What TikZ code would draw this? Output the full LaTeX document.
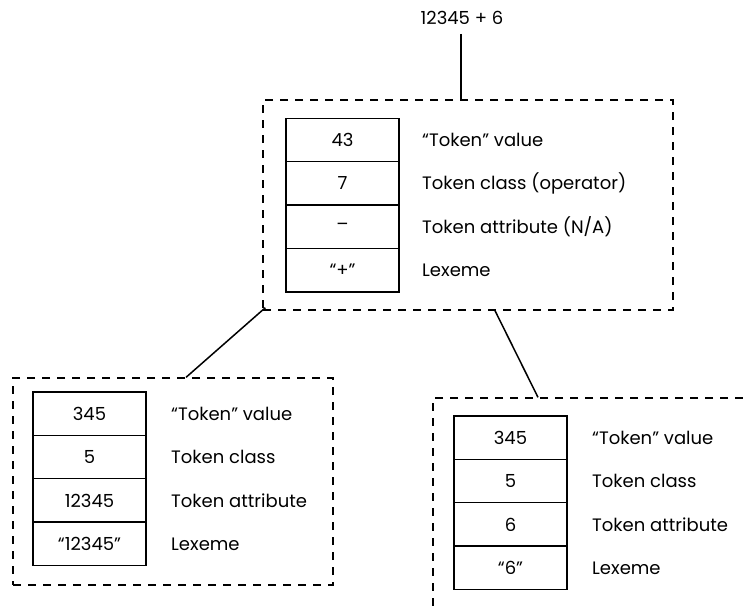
\documentclass[tikz,border=0pt]{standalone}
\usepackage{fontspec}
\setmainfont{Poppins}
\usetikzlibrary{positioning}
\tikzset{
  cell/.style={draw, line width=1.4pt, minimum width=113pt, minimum height=43.4pt, inner sep=0pt, outer sep=0pt, font=\fontsize{18}{21}\selectfont},
  lbl/.style={anchor=west, inner sep=0pt, font=\fontsize{18}{21}\selectfont},
  group/.style={draw, dashed, dash pattern=on 8pt off 7pt, line width=1.3pt, rectangle, inner sep=0pt},
  link/.style={line width=1.5pt}
}
\begin{document}
\begin{tikzpicture}[x=1pt,y=-1pt]
\useasboundingbox (0,0) rectangle (743,606);
\clip (0,0) rectangle (743,606);
\node[lbl, anchor=center] (expr) at (462,18) {12345 + 6};
% top group
\node[group, minimum width=410pt, minimum height=210pt] (topbox) at (468,205) {};
\node[cell] (t1) at (342.5,140) {43};
\node[cell, below=0pt of t1] (t2) {7};
\node[cell, below=0pt of t2] (t3) {–};
\node[cell, below=0pt of t3] (t4) {“+”};
\node[lbl, right=23pt of t1] (tl1) {“Token” value};
\node[lbl, right=23pt of t2] (tl2) {Token class (operator)};
\node[lbl, right=23pt of t3] (tl3) {Token attribute (N/A)};
\node[lbl, right=23pt of t4] (tl4) {Lexeme};
% left group
\node[group, minimum width=320pt, minimum height=207pt] (leftbox) at (173,481.5) {};
\node[cell] (l1) at (89.5,413.6) {345};
\node[cell, below=0pt of l1] (l2) {5};
\node[cell, below=0pt of l2] (l3) {12345};
\node[cell, below=0pt of l3] (l4) {“12345”};
\node[lbl, right=25pt of l1] (ll1) {“Token” value};
\node[lbl, right=25pt of l2] (ll2) {Token class};
\node[lbl, right=25pt of l3] (ll3) {Token attribute};
\node[lbl, right=25pt of l4] (ll4) {Lexeme};
% right group
\node[group, minimum width=330pt, minimum height=220pt] (rightbox) at (598,508) {};
\node[cell] (r1) at (510.5,437.6) {345};
\node[cell, below=0pt of r1] (r2) {5};
\node[cell, below=0pt of r2] (r3) {6};
\node[cell, below=0pt of r3] (r4) {“6”};
\node[lbl, right=25pt of r1] (rl1) {“Token” value};
\node[lbl, right=25pt of r2] (rl2) {Token class};
\node[lbl, right=25pt of r3] (rl3) {Token attribute};
\node[lbl, right=25pt of r4] (rl4) {Lexeme};
% connectors
\draw[link] ([yshift=-9pt]expr.south -| 461,0) -- (topbox.north -| 461,0);
\draw[link] (leftbox.north -| 186,0) -- ([xshift=3pt,yshift=3pt]topbox.south west);
\draw[link] (rightbox.north -| 538,0) -- (topbox.south -| 495,0);
\end{tikzpicture}
\end{document}
